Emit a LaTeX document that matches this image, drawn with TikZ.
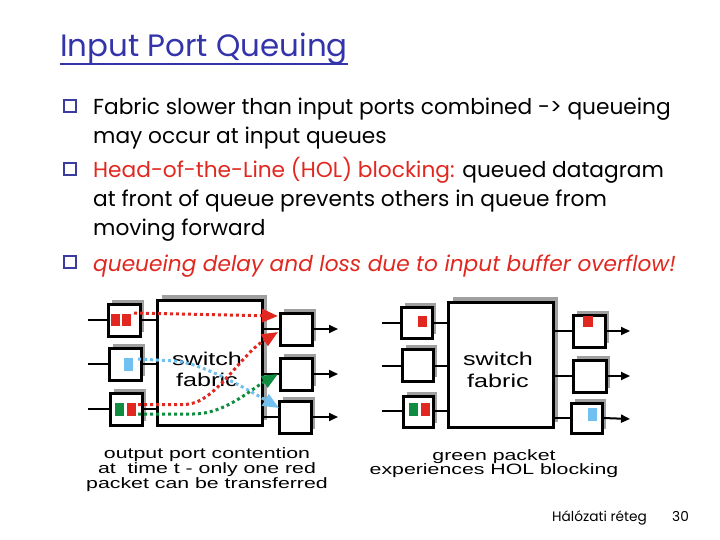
\documentclass[tikz,border=0pt]{standalone}
\usepackage{fontspec}
\setmainfont{Poppins}
\newfontfamily\arialf{Liberation Sans}
\usetikzlibrary{arrows.meta,shadows,calc}
\definecolor{ttlblue}{RGB}{51,51,170}
\definecolor{bulblue}{RGB}{60,60,160}
\definecolor{pred}{RGB}{224,40,32}
\definecolor{pblue}{RGB}{112,192,240}
\definecolor{pgreen}{RGB}{16,140,64}
\definecolor{shad}{RGB}{160,160,160}
\tikzset{
  qbox/.style={draw=black, line width=3pt, fill=white, minimum width=32pt, minimum height=32pt, inner sep=0pt,
     drop shadow={shadow xshift=4pt, shadow yshift=4pt, fill=shad, opacity=1}},
  fabric/.style={draw=black, line width=3pt, fill=white, minimum width=105pt, minimum height=125pt, inner sep=0pt,
     drop shadow={shadow xshift=5pt, shadow yshift=5pt, fill=shad, opacity=1}},
  pkt/.style={fill=#1, draw=none, minimum width=9pt, minimum height=12pt, inner sep=0pt},
  wire/.style={line width=2pt, black},
  outarr/.style={line width=2pt, black, -{Triangle[length=9pt,width=8pt]}},
  flow/.style={line width=3pt, #1, dash pattern=on 3pt off 3pt, -{Triangle[length=16pt,width=13pt,fill=#1]}},
  bul/.style={draw=bulblue, line width=1.6pt, minimum size=12pt, inner sep=0pt},
  txt/.style={anchor=base west, inner sep=0pt, font=\fontsize{21.7}{22}\selectfont},
  captxt/.style={anchor=base, inner sep=0pt, font=\arialf\fontsize{15}{15}\selectfont},
  fab/.style={anchor=base, inner sep=0pt, font=\arialf\fontsize{18.5}{19}\selectfont}
}
\newcommand{\wideC}[1]{\scalebox{1.42}[1]{#1}}
\newcommand{\wideF}[1]{\scalebox{1.36}[1]{#1}}
\begin{document}
\begin{tikzpicture}[x=1pt,y=-1pt]
\useasboundingbox (0,0) rectangle (720,540);
% title
\node[anchor=base west, inner sep=0pt, text=ttlblue, font=\fontsize{30.9}{31}\selectfont] (title) at (60,57) {Input Port Queuing};
\draw[ttlblue, line width=1.3pt] (60,64) -- (348,64);
% bullets
\node[bul] (b1) at (70,106) {};
\node[bul] (b2) at (70,169) {};
\node[bul] (b3) at (70,262) {};
\node[txt] (t1) at (93,115) {Fabric slower than input ports combined -> queueing};
\node[txt] (t2) at (93,144) {may occur at input queues};
\node[txt] (t3) at (93,178) {\textcolor{pred}{Head-of-the-Line (HOL) blocking:} queued datagram};
\node[txt] (t4) at (93,207) {at front of queue prevents others in queue from};
\node[txt] (t5) at (93,236) {moving forward};
\node[txt, text=pred] (t6) at (93,271) {\itshape queueing delay and loss due to input buffer overflow!};
% ---------- left diagram ----------
\node[fabric] (F1) at (209.5,362.5) {};
\node[fab] (F1a) at (207,365) {\wideF{switch}};
\node[fab] (F1b) at (207,386) {\wideF{fabric}};
\node[qbox] (i1) at (124,320) {};
\node[qbox] (i2) at (125,364) {};
\node[qbox] (i3) at (126,409) {};
\node[qbox] (o1) at (296,329) {};
\node[qbox] (o2) at (296,374) {};
\node[qbox] (o3) at (295,417) {};
\coordinate (a1) at (88,320); \coordinate (a2) at (88,364); \coordinate (a3) at (88,409);
\draw[wire] (a1) -- (i1.west); \draw[wire] (a2) -- (i2.west); \draw[wire] (a3) -- (i3.west);
\draw[wire] (i1.east) -- (i1.east -| F1.west);
\draw[wire] (i2.east) -- (i2.east -| F1.west);
\draw[wire] (i3.east) -- (i3.east -| F1.west);
\draw[wire] (o1.west -| F1.east) -- (o1.west);
\draw[wire] (o2.west -| F1.east) -- (o2.west);
\draw[wire] (o3.west -| F1.east) -- (o3.west);
\coordinate (e1) at (338,329); \coordinate (e2) at (338,374); \coordinate (e3) at (338,417);
\draw[outarr] (o1.east) -- (e1); \draw[outarr] (o2.east) -- (e2); \draw[outarr] (o3.east) -- (e3);
\node[pkt=pred] (r1a) at (115.5,320) {};
\node[pkt=pred] (r1b) at (126.5,320) {};
\node[pkt=pblue, minimum height=13pt] (bl2) at (128.5,364) {};
\node[pkt=pgreen, minimum height=13pt] (g3) at (119.5,409.5) {};
\node[pkt=pred, minimum height=13pt] (r3) at (131.5,409.5) {};
% flows
\coordinate (s1) at (134,313); \coordinate (d1) at (278,316);
\coordinate (s2) at (138,359); \coordinate (d2) at (279,408);
\coordinate (s3) at (138,404.5); \coordinate (d3) at (278,332);
\coordinate (s4) at (138,414); \coordinate (d4) at (278,374);
\draw[flow=pred] (s1) -- (d1);
\draw[flow=pblue] (s2) -- (175,361) .. controls (200,363) and (240,385) .. (d2);
\draw[flow=pred] (s3) -- (185,404.5) .. controls (215,404) and (240,355) .. (d3);
\draw[flow=pgreen] (s4) -- (193,414) .. controls (225,414) and (250,390) .. (d4);
\node[captxt] (c1a) at (207,458) {\wideC{output port contention}};
\node[captxt] (c1b) at (207,473) {\wideC{at\ \ time t - only one red}};
\node[captxt] (c1c) at (207,488) {\wideC{packet can be transferred}};
% ---------- right diagram ----------
\node[fabric] (F2) at (500.5,364.5) {};
\node[fab] (F2a) at (498,365) {\wideF{switch}};
\node[fab] (F2b) at (498,387) {\wideF{fabric}};
\node[qbox, minimum width=31pt, minimum height=31pt] (j1) at (416.5,322.5) {};
\node[qbox, minimum width=31pt] (j2) at (417.5,365) {};
\node[qbox, minimum width=30pt, minimum height=31pt] (j3) at (418,411.5) {};
\node[qbox] (p1) at (589,331) {};
\node[qbox, minimum width=33pt] (p2) at (589.5,376) {};
\node[qbox, minimum width=31pt, minimum height=30pt] (p3) at (586.5,418) {};
\coordinate (ra1) at (382,323); \coordinate (ra2) at (382,366); \coordinate (ra3) at (382,411);
\draw[wire] (ra1) -- (ra1 -| j1.west); \draw[wire] (ra2) -- (ra2 -| j2.west); \draw[wire] (ra3) -- (ra3 -| j3.west);
\draw[wire] (ra1 -| j1.east) -- (ra1 -| F2.west);
\draw[wire] (ra2 -| j2.east) -- (ra2 -| F2.west);
\draw[wire] (ra3 -| j3.east) -- (ra3 -| F2.west);
\draw[wire] (p1.west -| F2.east) -- (p1.west);
\draw[wire] (p2.west -| F2.east) -- (p2.west);
\draw[wire] (p3.west -| F2.east) -- (p3.west);
\coordinate (re1) at (630,331); \coordinate (re2) at (630,376); \coordinate (re3) at (630,419);
\draw[outarr] (p1.east) -- (re1); \draw[outarr] (p2.east) -- (re2); \draw[outarr] (p3.east) -- (re3);
\node[pkt=pred, minimum height=11pt] (rp1) at (422,321.5) {};
\node[pkt=pgreen, minimum height=13pt] (gp3) at (413.5,409.5) {};
\node[pkt=pred, minimum height=13pt] (rp3) at (425.5,409.5) {};
\node[pkt=pred, minimum width=10pt, minimum height=11pt] (rq1) at (588,321.5) {};
\node[pkt=pblue, minimum height=13pt] (bq3) at (592,414.5) {};
\node[captxt] (c2a) at (494,460) {\wideC{green packet}};
\node[captxt] (c2b) at (494,474) {\wideC{experiences HOL blocking}};
% footer
\node[anchor=base west, inner sep=0pt, font=\fontsize{13.7}{14}\selectfont] (foot) at (552,521) {Hálózati réteg};
\node[anchor=base west, inner sep=0pt, font=\fontsize{13.7}{14}\selectfont] (pg) at (672,521) {30};
\end{tikzpicture}
\end{document}
